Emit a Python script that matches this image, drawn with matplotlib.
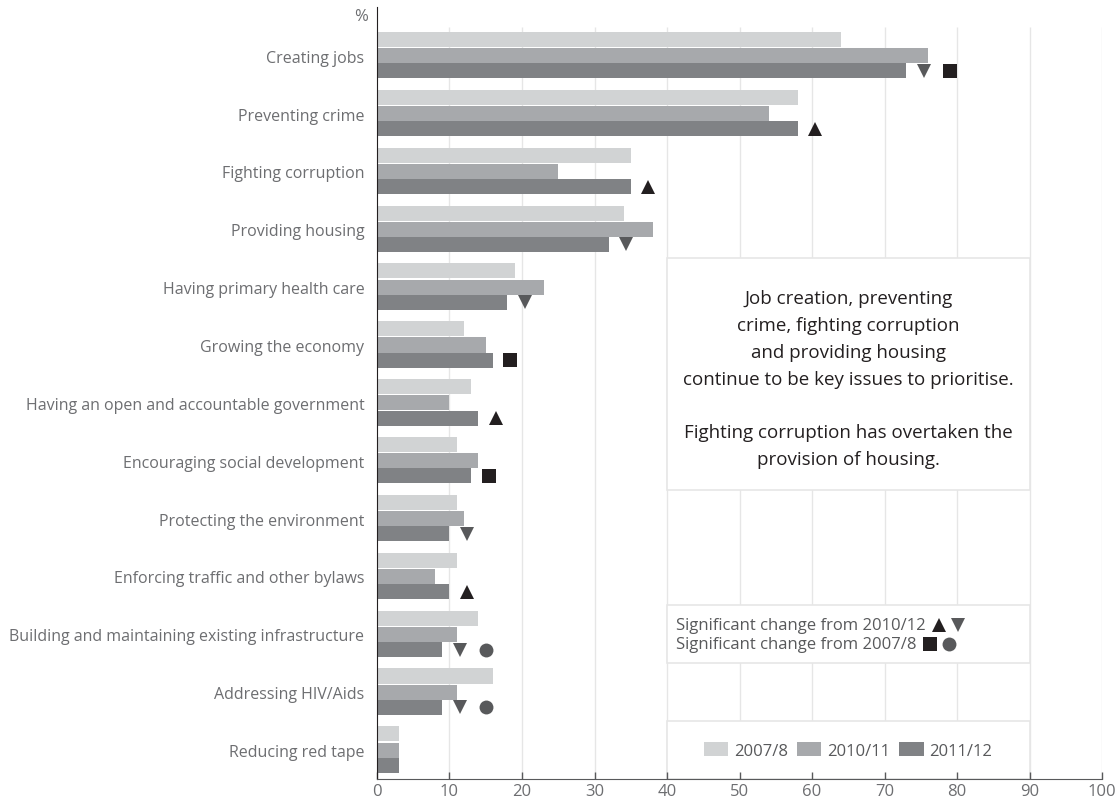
import matplotlib
matplotlib.use("Agg")
import matplotlib.pyplot as plt
from matplotlib.patches import Rectangle, Patch

plt.rcParams['font.family'] = ['Open Sans', 'DejaVu Sans']

# ── data ─────────────────────────────────────────────────────────────────────
categories = [
    "Creating jobs",
    "Preventing crime",
    "Fighting corruption",
    "Providing housing",
    "Having primary health care",
    "Growing the economy",
    "Having an open and accountable government",
    "Encouraging social development",
    "Protecting the environment",
    "Enforcing traffic and other bylaws",
    "Building and maintaining existing infrastructure",
    "Addressing HIV/Aids",
    "Reducing red tape",
]
series_names = ["2007/8", "2010/11", "2011/12"]
v2007 = [64, 58, 35, 34, 19, 12, 13, 11, 11, 11, 14, 16, 3]
v2010 = [76, 54, 25, 38, 23, 15, 10, 14, 12, 8, 11, 11, 3]
v2011 = [73, 58, 35, 32, 18, 16, 14, 13, 10, 10, 9, 9, 3]
# significance flags shown next to the 2011/12 bar
# up/down = change from 2010/12, sq/ci = change from 2007/8
flags = [
    ["down", "sq"], ["up"], ["up"], ["down"], ["down"], ["sq"], ["up"],
    ["sq"], ["down"], ["up"], ["down", "ci"], ["down", "ci"], [],
]
xticks = list(range(0, 101, 10))

note = ("Job creation, preventing\ncrime, fighting corruption\n"
        "and providing housing\ncontinue to be key issues to prioritise.\n\n"
        "Fighting corruption has overtaken the\nprovision of housing.")

# ── styles ───────────────────────────────────────────────────────────────────
colors = ["#d1d3d4", "#a7a9ac", "#808285"]
BLACK = "#231f20"
DGREY = "#58595b"
LGREY = "#6d6e71"
GRID = "#e6e6e6"
marker_style = {
    "up": dict(marker="^", color=BLACK),
    "down": dict(marker="v", color=DGREY),
    "sq": dict(marker="s", color=BLACK),
    "ci": dict(marker="o", color=DGREY),
}

fig = plt.figure(figsize=(11.17, 8.03), dpi=100)
ax = fig.add_axes([0.3375, 0.0286, 0.6491, 0.9614])

n = len(categories)
ys = list(range(n))
bar_h = 0.26
offsets = [-0.28, 0.0, 0.262]   # light bar sits apart, mid and dark touch

# gridlines
ax.vlines(xticks[1:], -0.5, n - 0.5, color=GRID, lw=1, zorder=0)

# white boxes covering the grid
for y0, y1 in [(3.5, 7.5), (9.5, 10.5), (11.5, 12.5)]:
    ax.add_patch(Rectangle((40, y0), 50, y1 - y0, facecolor="white",
                           edgecolor=GRID, lw=1.2, zorder=1))

for k, vals in enumerate([v2007, v2010, v2011]):
    ax.barh([y + offsets[k] for y in ys], vals, height=bar_h,
            color=colors[k], zorder=2, label=series_names[k])

# significance markers
for i, fl in enumerate(flags):
    x = v2011[i] + 2.4
    for f in fl:
        ax.plot(x, i + offsets[2], linestyle="none", ms=10, zorder=3,
                markeredgewidth=0, **marker_style[f])
        x += 3.6

ax.set_xlim(0, 100)
ax.set_ylim(n - 0.5, -0.84)
ax.set_yticks(ys)
ax.set_yticklabels(categories)
ax.set_xticks(xticks)
ax.tick_params(axis="y", length=0, pad=9, labelsize=11.5, labelcolor=LGREY)
ax.tick_params(axis="x", direction="in", length=5, width=1, color=DGREY,
               labelsize=12, labelcolor=LGREY, pad=3)

for s in ["top", "right"]:
    ax.spines[s].set_visible(False)
ax.spines["bottom"].set_color(DGREY)
ax.spines["left"].set_color(BLACK)

ax.text(-0.012, -0.69, "%", transform=ax.get_yaxis_transform(),
        ha="right", va="center", fontsize=12, color=LGREY)

ax.text(65, 5.58, note, ha="center", va="center", fontsize=13.5,
        color=BLACK, linespacing=1.63, zorder=4)

# marker key
key_lines = [("Significant change from 2010/12", ["up", "down"], 9.83),
             ("Significant change from 2007/8", ["sq", "ci"], 10.17)]
key_texts = []
for label, fl, y in key_lines:
    t = ax.text(41.2, y, label, ha="left", va="center", fontsize=12,
                color=DGREY, zorder=4)
    key_texts.append((t, fl, y))

fig.canvas.draw()
inv = ax.transData.inverted()
for t, fl, y in key_texts:
    bb = t.get_window_extent()
    x_end = inv.transform((bb.x1, bb.y0))[0]
    x = x_end + 1.9
    for f in fl:
        ax.plot(x, y, linestyle="none", ms=10, zorder=4, markeredgewidth=0,
                clip_on=False, **marker_style[f])
        x += 2.6

handles = [Patch(facecolor=c) for c in colors]
ax.legend(handles, series_names, ncol=3, frameon=False, loc="center",
          bbox_to_anchor=(65, 12.0), bbox_transform=ax.transData,
          fontsize=12, labelcolor=DGREY, handlelength=1.45,
          handleheight=1.0, handletextpad=0.35, columnspacing=0.55)

fig.savefig("out.png", dpi=100)
